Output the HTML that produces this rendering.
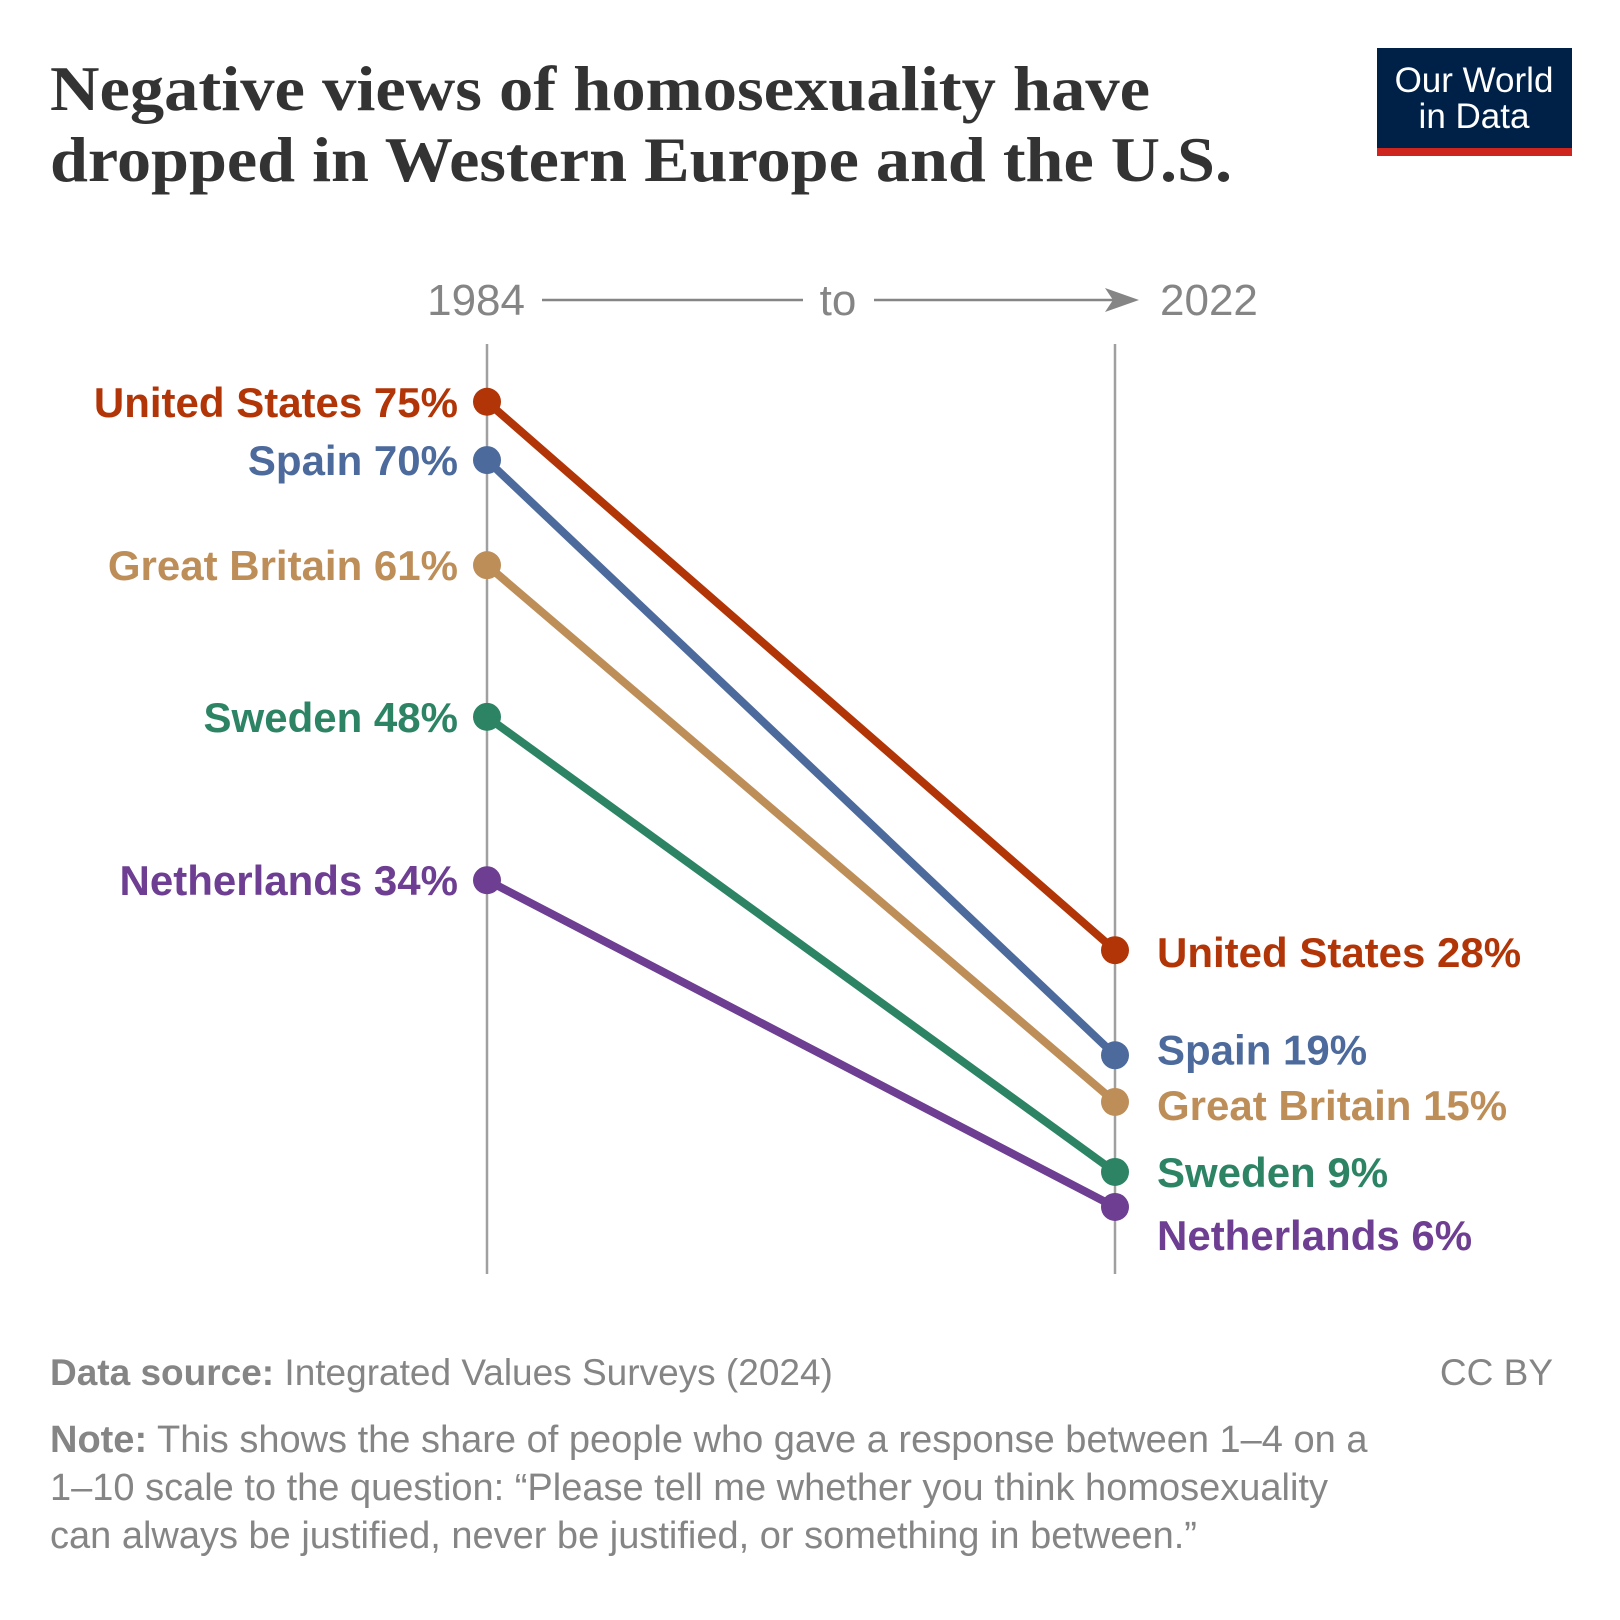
<!DOCTYPE html>
<html><head><meta charset="utf-8"><style>
html,body{margin:0;padding:0;background:#fff}
svg{display:block}
</style></head><body>
<svg width="1620" height="1620" viewBox="0 0 1620 1620" xmlns="http://www.w3.org/2000/svg">
<g font-family="'Liberation Serif',serif" font-weight="bold" font-size="64" fill="#333">
<text x="50" y="110" textLength="1100" lengthAdjust="spacingAndGlyphs">Negative views of homosexuality have</text>
<text x="50" y="181" textLength="1182" lengthAdjust="spacingAndGlyphs">dropped in Western Europe and the U.S.</text>
</g>
<g>
<rect x="1377" y="48" width="195" height="108" fill="#002147"/>
<rect x="1377" y="148" width="195" height="8" fill="#ce261e"/>
<text x="1474" y="92" text-anchor="middle" font-family="'Liberation Sans',sans-serif" font-size="35" fill="#fff">Our World</text>
<text x="1474" y="128" text-anchor="middle" font-family="'Liberation Sans',sans-serif" font-size="35" fill="#fff">in Data</text>
</g>
<g font-family="'Liberation Sans',sans-serif" font-size="44" fill="#858585">
<text x="525" y="315" text-anchor="end">1984</text>
<line x1="542" y1="300" x2="803" y2="300" stroke="#858585" stroke-width="2.5"/>
<text x="838" y="315" text-anchor="middle">to</text>
<line x1="874" y1="300" x2="1127" y2="300" stroke="#858585" stroke-width="2.5"/>
<path d="M1139 300 L1105 288 L1113 300 L1105 312 Z" fill="#858585"/>
<text x="1160" y="315">2022</text>
</g>
<line x1="487" y1="344" x2="487" y2="1274" stroke="#a0a0a0" stroke-width="2.5"/>
<line x1="1115" y1="344" x2="1115" y2="1274" stroke="#a0a0a0" stroke-width="2.5"/>
<g id="series"></g>
<g font-family="'Liberation Sans',sans-serif" font-size="37" fill="#858585">
<text x="50" y="1385"><tspan font-weight="bold">Data source:</tspan> Integrated Values Surveys (2024)</text>
<text x="1553" y="1385" text-anchor="end">CC BY</text>
<text x="50" y="1452" font-size="38"><tspan font-weight="bold">Note:</tspan> This shows the share of people who gave a response between 1–4 on a</text>
<text x="50" y="1500" font-size="38">1–10 scale to the question: “Please tell me whether you think homosexuality</text>
<text x="50" y="1548" font-size="38">can always be justified, never be justified, or something in between.”</text>
</g>
</svg>
<script>
const countries = ["United States","Spain","Great Britain","Sweden","Netherlands"];
const values1984 = [75,70,61,48,34];
const values2022 = [28,19,15,9,6];
const colors = ["#b13507","#4c6a9c","#be8e58","#2c8465","#6d3e91"];
const labelShift2022 = [2,-6,3,0,28];
const labelShift1984 = [0,0,0,0,0];
const xL=487,xR=1115;
function y(v){return 1277-11.67*v;}
const NS="http://www.w3.org/2000/svg";
const g=document.getElementById('series');
function mk(t,a){const e=document.createElementNS(NS,t);for(const k in a)e.setAttribute(k,a[k]);return e;}
countries.forEach((c,i)=>{
  const slug=c.toLowerCase().replace(/ /g,'-');
  const ln=mk('line',{x1:xL,y1:y(values1984[i]),x2:xR,y2:y(values2022[i]),stroke:colors[i],'stroke-width':8});
  
  
  g.appendChild(ln);
});
countries.forEach((c,i)=>{
  const slug=c.toLowerCase().replace(/ /g,'-');
  const d1=mk('circle',{cx:xL,cy:y(values1984[i]),r:14,fill:colors[i]});
  
  
  g.appendChild(d1);
  const d2=mk('circle',{cx:xR,cy:y(values2022[i]),r:14,fill:colors[i]});
  
  
  g.appendChild(d2);
  const t1=mk('text',{x:458,y:y(values1984[i])+labelShift1984[i]+15,'text-anchor':'end',fill:colors[i],'font-family':"'Liberation Sans',sans-serif",'font-weight':'bold','font-size':42});
  t1.textContent=c+' '+values1984[i]+'%';
  
  
  g.appendChild(t1);
  const t2=mk('text',{x:1157,y:y(values2022[i])+labelShift2022[i]+15,fill:colors[i],'font-family':"'Liberation Sans',sans-serif",'font-weight':'bold','font-size':42});
  t2.textContent=c+' '+values2022[i]+'%';
  
  
  g.appendChild(t2);
});
</script>
</body></html>
